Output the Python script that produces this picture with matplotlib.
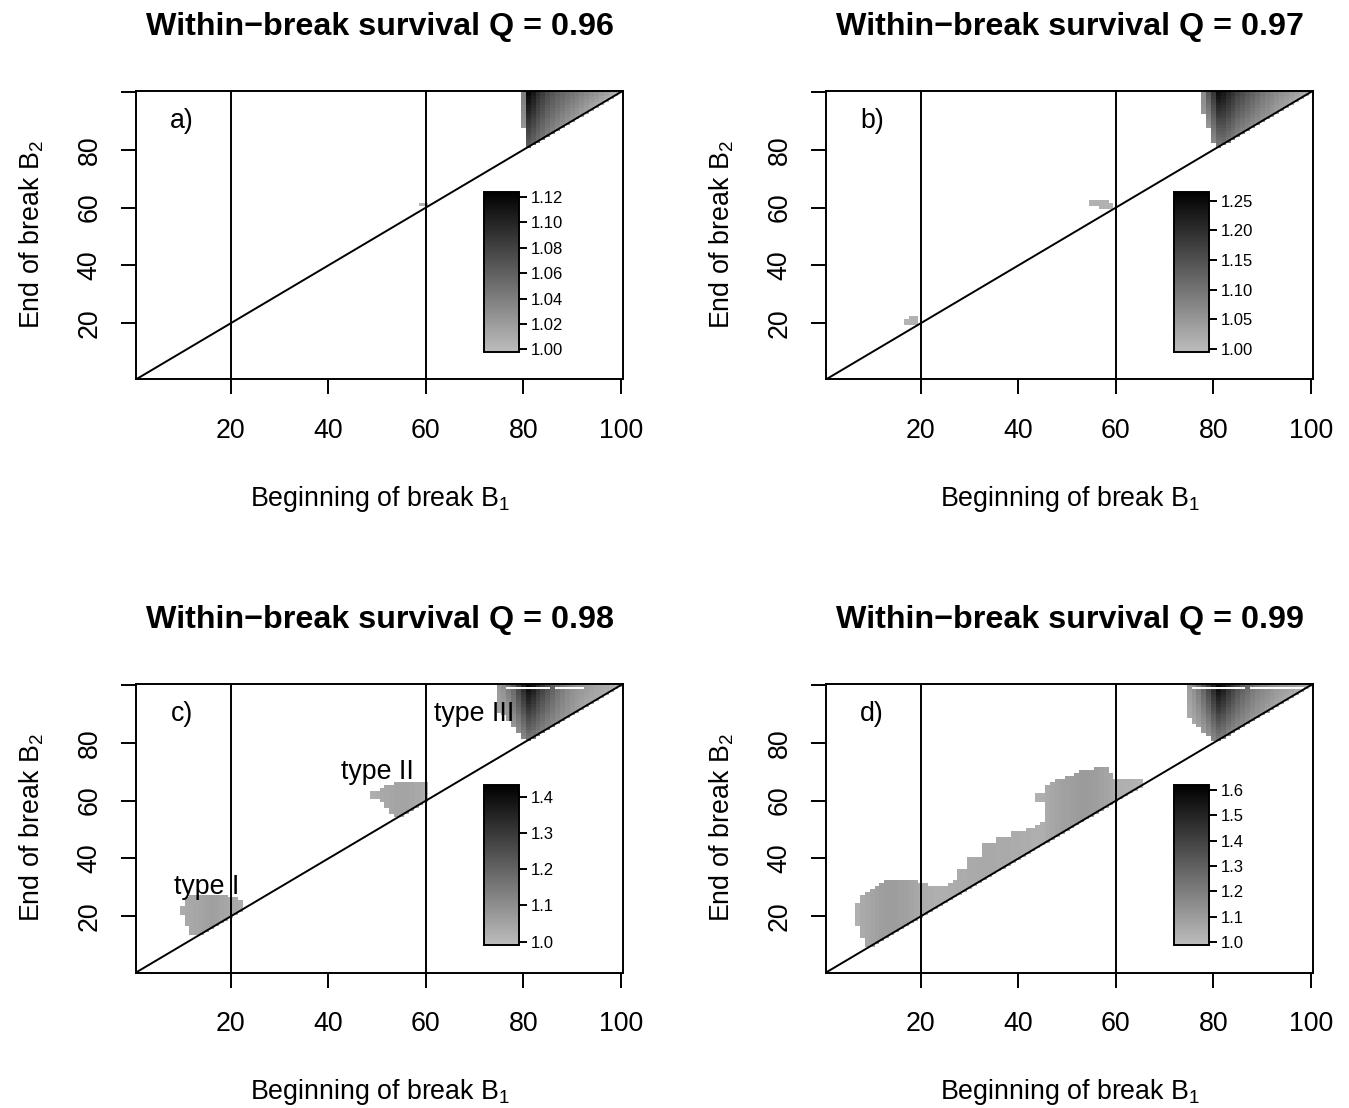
import numpy as np
import matplotlib
matplotlib.use('Agg')
import matplotlib.pyplot as plt
from matplotlib.colors import LinearSegmentedColormap

plt.rcParams['font.family'] = ['Liberation Sans', 'DejaVu Sans']
plt.rcParams['mathtext.fontset'] = 'custom'
plt.rcParams['mathtext.rm'] = 'Liberation Sans'

# ---- data ----
# each panel: upper-right triangle (per B1 column: lowest B2, value at bottom, value at top=100)
# and blobs (per B1 column: B2 range and value)
q_values = [0.96, 0.97, 0.98, 0.99]
panel_tags = ['a)', 'b)', 'c)', 'd)']

# panel a
tri_a_b1 = [80, 81, 82, 83, 84, 85, 86, 87, 88, 89, 90, 91, 92, 93, 94, 95, 96, 97, 98, 99, 100]
tri_a_lo = [88, 81, 82, 83, 84, 85, 86, 87, 88, 89, 90, 91, 92, 93, 94, 95, 96, 97, 98, 99, 100]
tri_a_bot = [1.025, 1.06, 1.055, 1.05, 1.045, 1.04, 1.036, 1.032, 1.028, 1.025, 1.022, 1.02,
             1.017, 1.015, 1.012, 1.01, 1.008, 1.006, 1.004, 1.002, 1.0]
tri_a_top = [1.041, 1.122, 1.11, 1.095, 1.085, 1.075, 1.068, 1.062, 1.057, 1.052, 1.048, 1.044,
             1.04, 1.036, 1.032, 1.028, 1.024, 1.02, 1.015, 1.01, 1.005]
blob_a_b1 = [59, 60]
blob_a_lo = [61, 61]
blob_a_hi = [61, 61]
blob_a_val = [1.005, 1.005]

# panel b
tri_b_b1 = [78, 79, 80, 81, 82, 83, 84, 85, 86, 87, 88, 89, 90, 91, 92, 93, 94, 95, 96, 97, 98, 99, 100]
tri_b_lo = [93, 88, 83, 81, 82, 83, 84, 85, 86, 87, 88, 89, 90, 91, 92, 93, 94, 95, 96, 97, 98, 99, 100]
tri_b_bot = [1.05, 1.049, 1.067, 1.085, 1.1, 1.095, 1.09, 1.08, 1.075, 1.07, 1.065, 1.06, 1.055,
             1.05, 1.045, 1.04, 1.035, 1.03, 1.025, 1.02, 1.015, 1.01, 1.005]
tri_b_top = [1.067, 1.139, 1.191, 1.25, 1.235, 1.215, 1.195, 1.175, 1.16, 1.145, 1.13, 1.115, 1.1,
             1.09, 1.08, 1.07, 1.062, 1.055, 1.048, 1.04, 1.033, 1.025, 1.015]
blob_b_b1 = [55, 56, 57, 58, 59, 17, 18, 19]
blob_b_lo = [61, 61, 60, 60, 60, 20, 20, 20]
blob_b_hi = [62, 62, 62, 62, 61, 21, 22, 22]
blob_b_val = [1.01, 1.012, 1.012, 1.01, 1.008, 1.008, 1.01, 1.01]

# panel c
tri_c_b1 = [75, 76, 77, 78, 79, 80, 81, 82, 83, 84, 85, 86, 87, 88, 89, 90, 91, 92, 93, 94, 95, 96, 97, 98, 99, 100]
tri_c_lo = [91, 90, 88, 86, 84, 82, 81, 82, 83, 84, 85, 86, 87, 88, 89, 90, 91, 92, 93, 94, 95, 96, 97, 98, 99, 100]
tri_c_bot = [1.05, 1.05, 1.06, 1.08, 1.1, 1.12, 1.15, 1.15, 1.14, 1.13, 1.12, 1.11, 1.1, 1.09, 1.08,
             1.07, 1.06, 1.05, 1.045, 1.04, 1.035, 1.03, 1.025, 1.02, 1.01, 1.005]
tri_c_top = [1.079, 1.1, 1.15, 1.2, 1.28, 1.35, 1.42, 1.38, 1.33, 1.29, 1.25, 1.21, 1.175, 1.145, 1.12,
             1.1, 1.09, 1.08, 1.07, 1.06, 1.05, 1.045, 1.04, 1.03, 1.02, 1.01]
gap_c_b1 = [77, 78, 79, 80, 81, 82, 83, 84, 85, 87, 88, 89, 90, 91, 92]
blob_c_b1 = [10, 11, 12, 13, 14, 15, 16, 17, 18, 19, 20, 21, 22,
             49, 50, 51, 52, 53, 54, 55, 56, 57, 58, 59, 60]
blob_c_lo = [21, 17, 14, 14, 14, 15, 16, 17, 18, 19, 20, 21, 22,
             61, 61, 60, 58, 56, 55, 55, 56, 57, 58, 59, 60]
blob_c_hi = [23, 26, 27, 27, 27, 27, 27, 27, 27, 27, 26, 26, 25,
             63, 63, 64, 65, 65, 66, 66, 66, 66, 66, 66, 66]
blob_c_val = [1.03, 1.035, 1.04, 1.045, 1.05, 1.055, 1.06, 1.055, 1.05, 1.045, 1.04, 1.035, 1.03,
              1.025, 1.03, 1.035, 1.04, 1.045, 1.05, 1.05, 1.05, 1.045, 1.04, 1.035, 1.03]

# panel d
tri_d_b1 = [75, 76, 77, 78, 79, 80, 81, 82, 83, 84, 85, 86, 87, 88, 89, 90, 91, 92, 93, 94, 95, 96, 97, 98, 99, 100]
tri_d_lo = [89, 87, 86, 84, 83, 81, 81, 82, 83, 84, 85, 86, 87, 88, 89, 90, 91, 92, 93, 94, 95, 96, 97, 98, 99, 100]
tri_d_bot = [1.05, 1.06, 1.08, 1.1, 1.13, 1.16, 1.2, 1.2, 1.18, 1.17, 1.16, 1.15, 1.14, 1.12, 1.11,
             1.1, 1.09, 1.08, 1.07, 1.06, 1.05, 1.04, 1.03, 1.02, 1.01, 1.0]
tri_d_top = [1.1, 1.15, 1.22, 1.3, 1.4, 1.5, 1.6, 1.55, 1.48, 1.42, 1.36, 1.31, 1.27, 1.23, 1.2,
             1.18, 1.16, 1.14, 1.12, 1.11, 1.1, 1.09, 1.08, 1.06, 1.05, 1.03]
gap_d_b1 = [76, 77, 78, 79, 80, 81, 82, 83, 84, 85, 86, 88, 89, 90, 91, 92, 93, 94, 95, 96, 97, 98]
blob_d_b1 = list(range(7, 66)) + [44, 45]
blob_d_lo = [17, 13, 10, 10, 11, 12, 13, 14, 15, 16, 17, 18, 19, 20, 21, 22, 23, 24, 25, 26, 27, 28,
             29, 30, 31, 32, 33, 34, 35, 36, 37, 38, 39, 40, 41, 42, 43, 44, 45, 46, 47, 48, 49, 50,
             51, 52, 53, 54, 55, 56, 57, 58, 59, 60, 61, 62, 63, 64, 65, 60, 60]
blob_d_hi = [24, 27, 28, 29, 30, 31, 32, 32, 32, 32, 32, 32, 32, 31, 31, 30, 30, 30, 30, 31, 32, 36,
             36, 40, 40, 40, 45, 45, 45, 47, 47, 47, 49, 49, 49, 50, 50, 51, 52, 65, 66, 67, 67, 68,
             68, 69, 70, 70, 70, 71, 71, 71, 69, 67, 67, 67, 67, 67, 67, 62, 62]
blob_d_val = [1.03, 1.05, 1.06, 1.07, 1.08, 1.09, 1.095, 1.095, 1.09, 1.085, 1.08, 1.07, 1.06, 1.05,
              1.045, 1.04, 1.035, 1.035, 1.035, 1.04, 1.04, 1.045, 1.045, 1.05, 1.05, 1.055, 1.055,
              1.055, 1.055, 1.05, 1.05, 1.05, 1.045, 1.045, 1.04, 1.04, 1.035, 1.035, 1.035, 1.05,
              1.06, 1.07, 1.08, 1.085, 1.09, 1.095, 1.1, 1.1, 1.095, 1.09, 1.08, 1.07, 1.06, 1.04,
              1.035, 1.03, 1.03, 1.025, 1.02, 1.03, 1.035]

# colour bar limits and ticks
cb_lims = [(0.998, 1.124), (0.995, 1.265), (0.99, 1.433), (0.988, 1.62)]
cb_ticks = [[1.00, 1.02, 1.04, 1.06, 1.08, 1.10, 1.12],
            [1.00, 1.05, 1.10, 1.15, 1.20, 1.25],
            [1.0, 1.1, 1.2, 1.3, 1.4],
            [1.0, 1.1, 1.2, 1.3, 1.4, 1.5, 1.6]]
cb_fmt = ['%.2f', '%.2f', '%.1f', '%.1f']

panels = [
    (tri_a_b1, tri_a_lo, tri_a_bot, tri_a_top, blob_a_b1, blob_a_lo, blob_a_hi, blob_a_val, []),
    (tri_b_b1, tri_b_lo, tri_b_bot, tri_b_top, blob_b_b1, blob_b_lo, blob_b_hi, blob_b_val, []),
    (tri_c_b1, tri_c_lo, tri_c_bot, tri_c_top, blob_c_b1, blob_c_lo, blob_c_hi, blob_c_val, gap_c_b1),
    (tri_d_b1, tri_d_lo, tri_d_bot, tri_d_top, blob_d_b1, blob_d_lo, blob_d_hi, blob_d_val, gap_d_b1),
]


def build_grid(tb1, tlo, tbot, ttop, bb1, blo, bhi, bval, gaps):
    Z = np.full((100, 100), np.nan)
    for c, lo, vb, vt in zip(tb1, tlo, tbot, ttop):
        Z[lo - 1:100, c - 1] = np.linspace(vb, vt, 100 - lo + 1)
    for c, lo, hi, v in zip(bb1, blo, bhi, bval):
        Z[lo - 1:hi, c - 1] = v
    for c in gaps:
        Z[99 - 1, c - 1] = np.nan
    return np.ma.masked_invalid(Z)


cmap = LinearSegmentedColormap.from_list('greys', [(0.74, 0.74, 0.74), (0, 0, 0)])

fig = plt.figure(figsize=(13.49, 11.08), dpi=100)
rects = [[0.1007, 0.6575, 0.3614, 0.2608], [0.6122, 0.6575, 0.3614, 0.2608],
         [0.1007, 0.1222, 0.3614, 0.2608], [0.6122, 0.1222, 0.3614, 0.2608]]
edges = np.arange(0.5, 101, 1.0)
fs = 19.3
lw = 1.4

for i, rect in enumerate(rects):
    ax = fig.add_axes(rect)
    Z = build_grid(*panels[i])
    vmin, vmax = cb_lims[i]
    mesh = ax.pcolormesh(edges, edges, Z, cmap=cmap, vmin=vmin, vmax=vmax, shading='flat')
    ax.plot([0.5, 100.5], [0.5, 100.5], color='black', lw=lw)
    ax.axvline(20, color='black', lw=lw)
    ax.axvline(60, color='black', lw=lw)
    ax.set_xlim(0.5, 100.5)
    ax.set_ylim(0.5, 100.5)
    ax.set_xticks([20, 40, 60, 80, 100])
    ax.set_yticks([20, 40, 60, 80, 100])
    ax.set_yticklabels(['20', '40', '60', '80', ''], rotation=90, va='center')
    ax.tick_params(axis='both', direction='out', length=11, width=lw, labelsize=fs)
    ax.tick_params(axis='x', pad=17)
    ax.tick_params(axis='y', pad=13)
    for s in ax.spines.values():
        s.set_linewidth(lw)
    ax.text(10, 90, panel_tags[i], fontsize=fs, ha='center', va='center')

    cax = ax.inset_axes([0.715, 0.095, 0.07, 0.555])
    cb = fig.colorbar(mesh, cax=cax, ticks=cb_ticks[i], format=cb_fmt[i])
    cb.outline.set_linewidth(lw)
    cax.tick_params(direction='out', length=6, width=lw, labelsize=12, pad=3)

    cx = rect[0] + rect[2] / 2
    top_off = 0 if i < 2 else 0.5352
    fig.text(cx, 0.9684 - top_off, 'Within\u2212break survival Q = %.2f' % q_values[i],
             fontsize=23.2, fontweight='bold', ha='center', va='baseline')
    fig.text(cx, 0.5433 - top_off, 'Beginning of break B$_\\mathregular{1}$', fontsize=fs,
             ha='center', va='baseline')
    fig.text(rect[0] - 0.0775, rect[1] + rect[3] / 2, 'End of break B$_\\mathregular{2}$',
             fontsize=fs, rotation=90, ha='center', va='center')

    if i == 2:
        ax.text(15, 30, 'type I', fontsize=fs, ha='center', va='center')
        ax.text(50, 70, 'type II', fontsize=fs, ha='center', va='center')
        ax.text(70, 90, 'type III', fontsize=fs, ha='center', va='center')

fig.savefig('out.png', dpi=100)
